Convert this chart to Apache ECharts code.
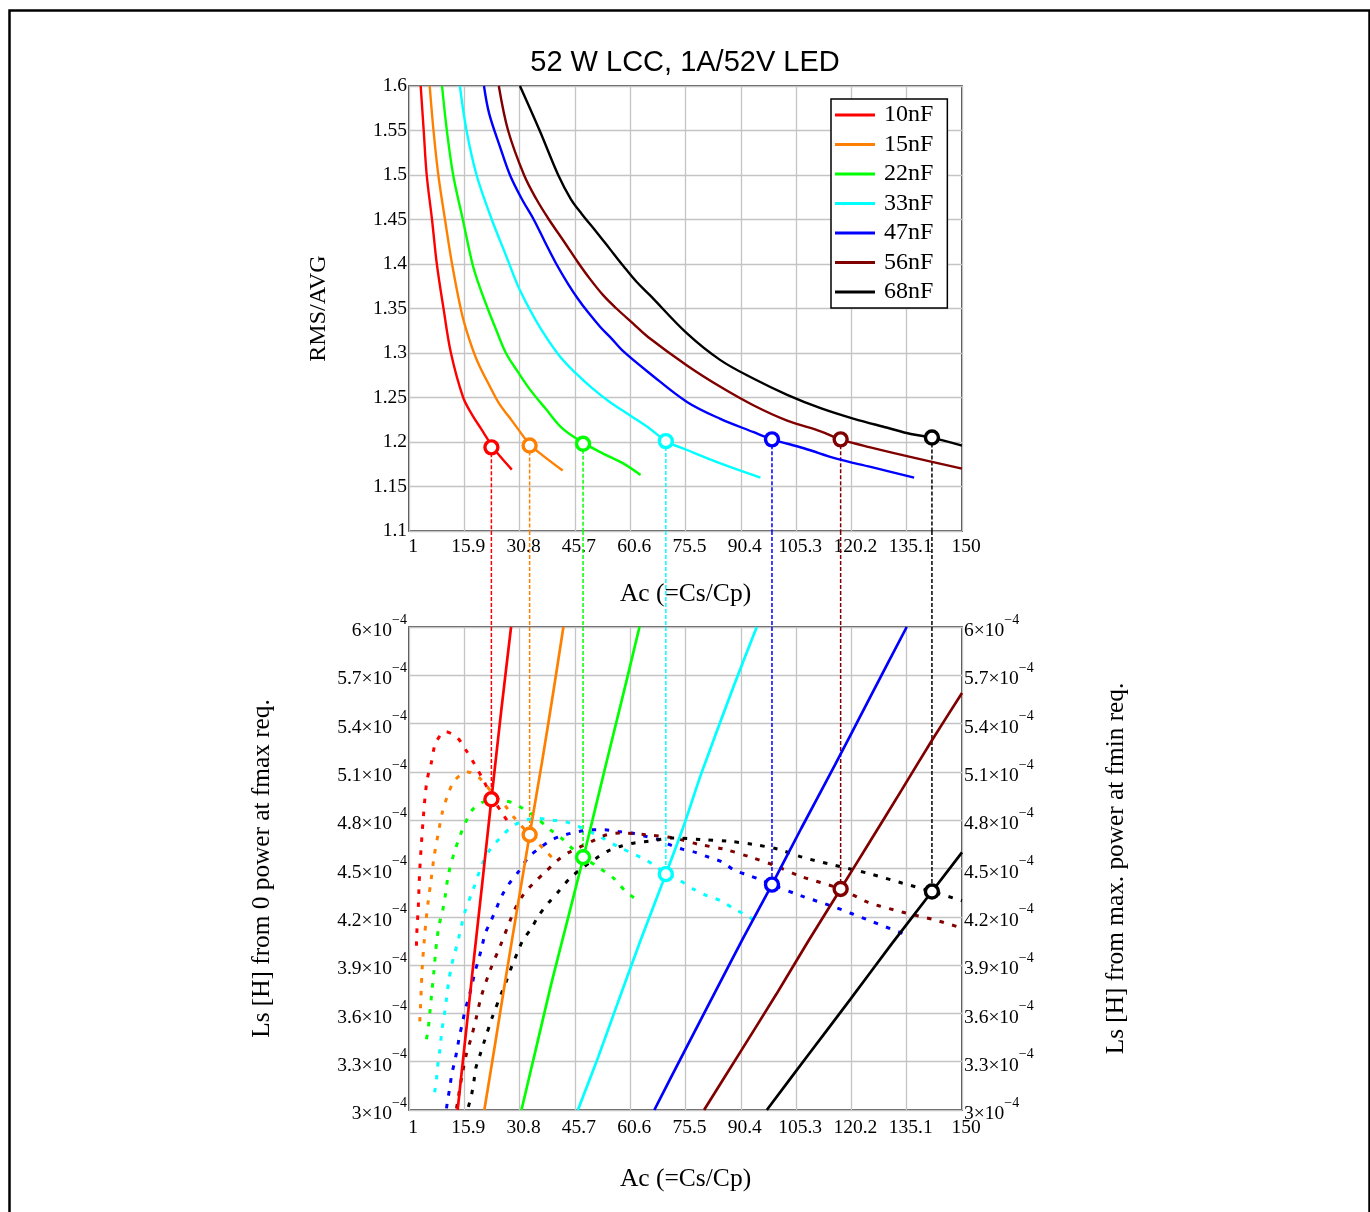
<!DOCTYPE html>
<html><head><meta charset="utf-8">
<script src="https://cdn.jsdelivr.net/npm/echarts@6/dist/echarts.min.js"></script>
<style>html,body{margin:0;padding:0;background:#fff}#c{width:1370px;height:1212px}</style>
</head><body><div id="c"></div>
<script>
// ---------- data ----------
const capNames = ['10nF','15nF','22nF','33nF','47nF','56nF','68nF'];
const capColors = ['#ff0000','#ff8000','#00ff00','#00ffff','#0000ff','#800000','#000000'];

const acTickLabels = ['1','15.9','30.8','45.7','60.6','75.5','90.4','105.3','120.2','135.1','150'];
const rmsTickLabels = ['1.1','1.15','1.2','1.25','1.3','1.35','1.4','1.45','1.5','1.55','1.6'];
const lsTickMantissas = ['3','3.3','3.6','3.9','4.2','4.5','4.8','5.1','5.4','5.7','6'];
const lsTickExponent = '−4';

// Top chart: RMS/AVG vs Ac  [Ac, RMS/AVG]
const rms10 = [[4.15,1.6],[4.96,1.55],[5.77,1.5],[7.2,1.45],[8.5,1.4],[10.3,1.35],[12.3,1.3],[15.6,1.25],[18.1,1.23],[20.4,1.215],[23.3,1.196],[25.3,1.185],[28.7,1.169]];
const rms15 = [[6.58,1.6],[7.6,1.55],[8.9,1.5],[10.7,1.45],[12.6,1.4],[15.2,1.345],[17.2,1.316],[19.5,1.29],[22.6,1.264],[25.3,1.243],[28.0,1.228],[30.3,1.215],[33.6,1.197],[37.0,1.185],[42.4,1.168]];
const rms22 = [[9.9,1.6],[11.2,1.55],[12.9,1.5],[15.5,1.45],[18.1,1.4],[19.9,1.376],[22.2,1.35],[24.4,1.327],[27.1,1.3],[30.3,1.279],[33.4,1.26],[37.9,1.237],[42.4,1.215],[48.0,1.199],[53.3,1.187],[58.7,1.176],[63.4,1.163]];
const rms33 = [[14.7,1.6],[16.5,1.55],[19.2,1.5],[23.3,1.45],[27.1,1.41],[30.3,1.376],[33.4,1.35],[37.0,1.324],[41.5,1.297],[46.0,1.277],[50.5,1.26],[55.1,1.245],[60.5,1.23],[65.9,1.215],[70.2,1.201],[75.9,1.191],[84.9,1.176],[95.7,1.160]];
const rms47 = [[21.2,1.6],[22.6,1.569],[25.5,1.532],[28.2,1.5],[31.4,1.473],[34.6,1.45],[37.6,1.425],[40.7,1.4],[43.8,1.378],[46.5,1.361],[49.2,1.346],[52.6,1.329],[55.4,1.317],[58.7,1.302],[65.9,1.277],[75.9,1.245],[84.9,1.226],[93.9,1.211],[98.8,1.203],[107.4,1.193],[116.4,1.181],[125.4,1.172],[137.1,1.160]];
const rms56 = [[25.2,1.6],[27.7,1.55],[32.0,1.5],[35.3,1.473],[38.7,1.45],[42.8,1.425],[46.5,1.402],[49.8,1.383],[53.3,1.365],[56.9,1.35],[61.4,1.333],[65.4,1.318],[75.9,1.286],[84.9,1.262],[93.9,1.241],[102.9,1.224],[111.9,1.212],[117.3,1.203],[125.3,1.194],[134.3,1.185],[150,1.170]];
const rms68 = [[30.9,1.6],[36.2,1.55],[41.2,1.5],[44.6,1.473],[47.6,1.456],[51.5,1.436],[55.1,1.417],[58.7,1.398],[62.3,1.38],[65.9,1.365],[75.9,1.322],[84.9,1.292],[93.9,1.271],[102.9,1.253],[111.9,1.238],[120.9,1.226],[129.9,1.216],[136.2,1.209],[141.9,1.205],[150,1.196]];

// Bottom chart, left axis: Ls from 0 power at fmax req. [Ac, Ls in 1e-4 H]
const lsFmax10 = [[14.1,3.0],[16.2,3.45],[18.3,3.90],[20.7,4.40],[23.2,4.93],[25.8,5.47],[28.5,6.0]];
const lsFmax15 = [[21.3,3.0],[24.2,3.41],[27.2,3.84],[30.3,4.27],[33.5,4.71],[36.9,5.17],[39.7,5.57],[42.6,6.0]];
const lsFmax22 = [[31.3,3.0],[35.2,3.38],[39.3,3.78],[43.6,4.17],[48.0,4.57],[54.0,5.14],[58.7,5.58],[63.1,6.0]];
const lsFmax33 = [[46.5,3.0],[52.0,3.33],[57.0,3.65],[63.5,4.06],[70.2,4.465],[75.1,4.77],[79.6,5.08],[88.6,5.64],[94.7,6.0]];
const lsFmax47 = [[67.1,3.0],[75.1,3.36],[84.1,3.76],[91.1,4.07],[98.8,4.40],[106.7,4.75],[115.7,5.14],[124.7,5.54],[135.1,6.0]];
const lsFmax56 = [[80.5,3.0],[90.0,3.35],[100.0,3.72],[108.6,4.05],[117.3,4.373],[125.0,4.66],[133.8,4.99],[142.0,5.30],[150,5.59]];
const lsFmax68 = [[97.4,3.0],[108.5,3.34],[120.0,3.69],[131.0,4.03],[141.9,4.357],[150,4.60]];

// Bottom chart, right axis: Ls from max. power at fmin req. [Ac, Ls in 1e-4 H]
const lsFmin10 = [[3.0,4.02],[3.1,4.10],[3.3,4.18],[3.5,4.26],[3.9,4.49],[4.8,4.80],[5.8,5.04],[7.05,5.16],[8.2,5.28],[10.8,5.35],[14.1,5.31],[16.5,5.23],[18.6,5.15],[20.8,5.06],[23.2,4.95],[26.5,4.83],[28.6,4.76]];
const lsFmin15 = [[3.9,3.55],[4.1,3.64],[4.3,3.75],[4.6,3.90],[5.1,4.05],[5.6,4.18],[6.2,4.30],[6.9,4.42],[7.8,4.58],[8.9,4.72],[10.0,4.85],[11.5,4.96],[13.4,5.05],[16.8,5.10],[20.1,5.06],[23.8,4.96],[26.9,4.89],[29.2,4.82],[33.5,4.71],[37.8,4.61],[41.0,4.53]];
const lsFmin22 = [[5.7,3.44],[6.2,3.51],[6.6,3.60],[7.1,3.72],[7.7,3.86],[8.2,3.99],[8.6,4.07],[9.1,4.15],[10.0,4.23],[10.7,4.32],[11.6,4.46],[13.2,4.60],[14.7,4.70],[16.1,4.78],[18.3,4.87],[22.2,4.92],[26.0,4.92],[28.7,4.91],[31.9,4.87],[34.6,4.83],[39.1,4.74],[42.5,4.68],[45.2,4.62],[48.0,4.57],[52.5,4.50],[56.1,4.44],[59.3,4.36],[63.3,4.29]];
const lsFmin33 = [[7.9,3.11],[8.4,3.19],[8.7,3.27],[9.3,3.37],[9.9,3.50],[10.5,3.59],[11.1,3.69],[11.7,3.80],[12.5,3.90],[13.4,3.98],[14.3,4.06],[15.2,4.15],[15.9,4.22],[18.3,4.37],[20.8,4.53],[22.9,4.62],[25.6,4.69],[28.7,4.76],[32.3,4.80],[36.0,4.81],[39.6,4.80],[43.2,4.79],[46.8,4.76],[53.1,4.69],[57.0,4.64],[64.2,4.56],[67.8,4.51],[70.2,4.465],[73.7,4.43],[77.8,4.37],[81.4,4.33],[85.0,4.30],[88.6,4.25],[91.8,4.21],[95.4,4.16]];
const lsFmin47 = [[11.1,3.01],[11.4,3.06],[12.0,3.14],[12.5,3.22],[13.2,3.29],[14.0,3.38],[14.6,3.46],[15.4,3.54],[16.1,3.62],[17.0,3.69],[17.9,3.77],[18.8,3.86],[19.7,3.93],[20.6,4.01],[21.6,4.10],[23.0,4.17],[24.5,4.25],[26.0,4.33],[27.8,4.40],[30.5,4.48],[33.2,4.57],[36.4,4.63],[39.6,4.68],[43.2,4.71],[46.8,4.73],[50.4,4.74],[53.8,4.74],[57.4,4.73],[61.0,4.72],[64.7,4.70],[68.3,4.68],[71.0,4.65],[74.6,4.62],[78.2,4.60],[81.8,4.57],[85.4,4.54],[88.6,4.49],[92.2,4.46],[95.8,4.43],[98.8,4.40],[106.7,4.33],[115.7,4.26],[124.7,4.18],[134.7,4.09]];
const lsFmin56 = [[13.8,3.01],[14.3,3.08],[15.4,3.23],[16.5,3.35],[17.9,3.46],[19.2,3.58],[20.4,3.70],[22.9,3.87],[25.6,4.02],[28.3,4.18],[29.8,4.26],[31.9,4.34],[34.6,4.41],[37.8,4.48],[41.0,4.55],[44.1,4.60],[47.7,4.64],[51.3,4.68],[54.3,4.71],[57.9,4.72],[64.9,4.71],[72.2,4.69],[79.1,4.65],[85.9,4.62],[93.1,4.57],[99.4,4.52],[106.7,4.45],[117.3,4.373],[124.7,4.29],[133.8,4.23],[142.8,4.18],[150,4.13]];
const lsFmin68 = [[17.0,3.02],[17.9,3.10],[18.5,3.18],[19.0,3.26],[20.1,3.34],[21.2,3.42],[23.5,3.58],[26.0,3.73],[27.4,3.81],[28.8,3.90],[30.1,3.97],[31.6,4.05],[34.0,4.13],[36.0,4.21],[38.7,4.29],[41.4,4.36],[44.4,4.44],[48.1,4.51],[51.2,4.56],[54.7,4.61],[58.3,4.64],[62.0,4.66],[65.6,4.67],[72.3,4.69],[79.6,4.68],[86.8,4.67],[93.6,4.65],[100.4,4.62],[107.0,4.57],[115.7,4.52],[124.7,4.47],[133.8,4.41],[141.9,4.357],[150,4.30]];

// Design points (circles) and vertical link lines
const markerAc  = [23.2, 33.5, 47.9, 70.2, 98.8, 117.3, 141.9];
const markerRms = [1.194, 1.196, 1.198, 1.201, 1.203, 1.203, 1.205];
const markerLs  = [4.93, 4.71, 4.57, 4.465, 4.40, 4.373, 4.357];

// ---------- chart ----------
const rmsCurves = [rms10, rms15, rms22, rms33, rms47, rms56, rms68];
const lsFmaxCurves = [lsFmax10, lsFmax15, lsFmax22, lsFmax33, lsFmax47, lsFmax56, lsFmax68];
const lsFminCurves = [lsFmin10, lsFmin15, lsFmin22, lsFmin33, lsFmin47, lsFmin56, lsFmin68];

const SERIF = '"Liberation Serif","Times New Roman",serif';
const SANS = '"Liberation Sans",Arial,sans-serif';
const RMS_MIN = 1.1, RMS_MAX = 1.6, LS_MIN = 3, LS_MAX = 6;
const TICK_FS = 19.5;

const gridLine = {show:true, lineStyle:{color:'#c4c4c4', width:1.3, type:'solid'}};
function acAxis(gi, nameGap, margin){
  return {type:'value', gridIndex:gi, min:1, max:150, interval:14.9,
    axisLine:{show:false}, axisTick:{show:false}, splitLine:gridLine,
    axisLabel:{show:true, color:'#000', fontFamily:SERIF, fontSize:TICK_FS, margin:margin,
      padding:[0,0,0,8], showMinLabel:true, showMaxLabel:true,
      formatter:(v,i)=>acTickLabels[i] !== undefined ? acTickLabels[i] : String(Math.round(v*10)/10)},
    name:'Ac (=Cs/Cp)', nameLocation:'middle', nameGap:nameGap,
    nameTextStyle:{fontFamily:SERIF, fontSize:25.5, color:'#000'}};
}
const lsRich = {
  m:{fontFamily:SERIF, fontSize:TICK_FS, color:'#000', lineHeight:28, verticalAlign:'bottom'},
  s:{fontFamily:SERIF, fontSize:14, color:'#000', lineHeight:28, verticalAlign:'top'}
};
function lsAxis(pos, name, nameGap){
  return {type:'value', gridIndex:2, position:pos, min:LS_MIN, max:LS_MAX, interval:0.3,
    axisLine:{show:false}, axisTick:{show:false},
    splitLine: pos==='left' ? gridLine : {show:false},
    axisLabel:{show:true, margin:2, showMinLabel:true, showMaxLabel:true,
      align: pos==='left' ? 'right' : 'left',
      formatter:(v,i)=>'{m|'+lsTickMantissas[i]+'×10}{s|'+lsTickExponent+'}', rich:lsRich},
    name:name, nameLocation:'middle', nameGap:nameGap, nameRotate:90,
    nameTextStyle:{fontFamily:SERIF, fontSize:25.3, color:'#000'}};
}

const series = [];
const linkStyle = (c)=>({color:c, width:1.5, type:[4,2]});
capNames.forEach((n,i)=>{
  const c = capColors[i];
  series.push({name:n, type:'line', xAxisIndex:0, yAxisIndex:0, data:rmsCurves[i],
    showSymbol:false, smooth:0.35, lineStyle:{color:c, width:2.4}, itemStyle:{color:c}, z:3});
  series.push({type:'line', xAxisIndex:0, yAxisIndex:0, data:[[markerAc[i],markerRms[i]],[markerAc[i],RMS_MIN]],
    showSymbol:false, lineStyle:linkStyle(c), z:2});
  series.push({type:'line', xAxisIndex:1, yAxisIndex:1, data:[[markerAc[i],1],[markerAc[i],0]],
    showSymbol:false, clip:false, lineStyle:linkStyle(c), z:2});
  series.push({type:'line', xAxisIndex:2, yAxisIndex:2, data:[[markerAc[i],LS_MAX],[markerAc[i],markerLs[i]]],
    showSymbol:false, lineStyle:linkStyle(c), z:2});
  series.push({name:n+' Ls fmin', type:'line', xAxisIndex:2, yAxisIndex:3, data:lsFminCurves[i],
    showSymbol:false, smooth:0.3, lineStyle:{color:c, width:3, type:[4.5,8.5]}, z:3});
  series.push({name:n+' Ls fmax', type:'line', xAxisIndex:2, yAxisIndex:2, data:lsFmaxCurves[i],
    showSymbol:false, smooth:0.2, lineStyle:{color:c, width:2.7}, z:4});
});
const markerItem = {color:'#fff', borderWidth:3.4, opacity:1};
series.push({type:'scatter', xAxisIndex:0, yAxisIndex:0, symbol:'circle', symbolSize:13, z:10,
  itemStyle:markerItem,
  data:markerAc.map((a,i)=>({value:[a,markerRms[i]], itemStyle:{borderColor:capColors[i], color:'#fff', opacity:1}}))});
series.push({type:'scatter', xAxisIndex:2, yAxisIndex:2, symbol:'circle', symbolSize:13, z:10,
  itemStyle:markerItem,
  data:markerAc.map((a,i)=>({value:[a,markerLs[i]], itemStyle:{borderColor:capColors[i], color:'#fff', opacity:1}}))});

const option = {
  animation:false,
  backgroundColor:'#fff',
  title:{text:'52 W LCC, 1A/52V LED', left:'center', top:43,
    textStyle:{fontFamily:SANS, fontSize:29, fontWeight:'normal', color:'#000'}},
  legend:{data:capNames, orient:'vertical', left:831, top:99, icon:'rect', itemWidth:40, itemHeight:3,
    itemGap:3.5, selectedMode:false, backgroundColor:'#fff', borderColor:'#000', borderWidth:1.5,
    borderRadius:0, padding:[3,14,3,4],
    textStyle:{fontFamily:SERIF, fontSize:24, color:'#000', lineHeight:26, padding:[0,0,0,4]}},
  grid:[
    {left:409, top:86, width:553, height:445, show:true, borderColor:'#222', borderWidth:1.6, backgroundColor:'transparent', containLabel:false, outerBoundsMode:'none'},
    {left:409, top:531, width:553, height:96, show:false, containLabel:false, outerBoundsMode:'none'},
    {left:409, top:627, width:553, height:483, show:true, borderColor:'#222', borderWidth:1.6, backgroundColor:'transparent', containLabel:false, outerBoundsMode:'none'}
  ],
  xAxis:[
    acAxis(0, 50, 6),
    {type:'value', gridIndex:1, min:1, max:150, show:false},
    acAxis(2, 56, 8)
  ],
  yAxis:[
    {type:'value', gridIndex:0, min:RMS_MIN, max:RMS_MAX, interval:0.05,
      axisLine:{show:false}, axisTick:{show:false}, splitLine:gridLine,
      axisLabel:{show:true, color:'#000', fontFamily:SERIF, fontSize:TICK_FS, margin:2, showMinLabel:true, showMaxLabel:true,
        formatter:(v,i)=>rmsTickLabels[i]},
      name:'RMS/AVG', nameLocation:'middle', nameGap:78, nameRotate:90,
      nameTextStyle:{fontFamily:SERIF, fontSize:24, color:'#000'}},
    {type:'value', gridIndex:1, min:0, max:1, show:false},
    lsAxis('left', 'Ls [H] from 0 power at fmax req.', 134),
    lsAxis('right', 'Ls [H] from max. power at fmin req.', 142)
  ],
  graphic:[{type:'rect', left:7, top:8, shape:{width:1360, height:1230}, style:{fill:null, stroke:'#000', lineWidth:2.5}, silent:true, z:-1}],
  series:series
};
const chart = echarts.init(document.getElementById('c'), null, {renderer:'canvas'});
chart.setOption(option);
</script></body></html>
